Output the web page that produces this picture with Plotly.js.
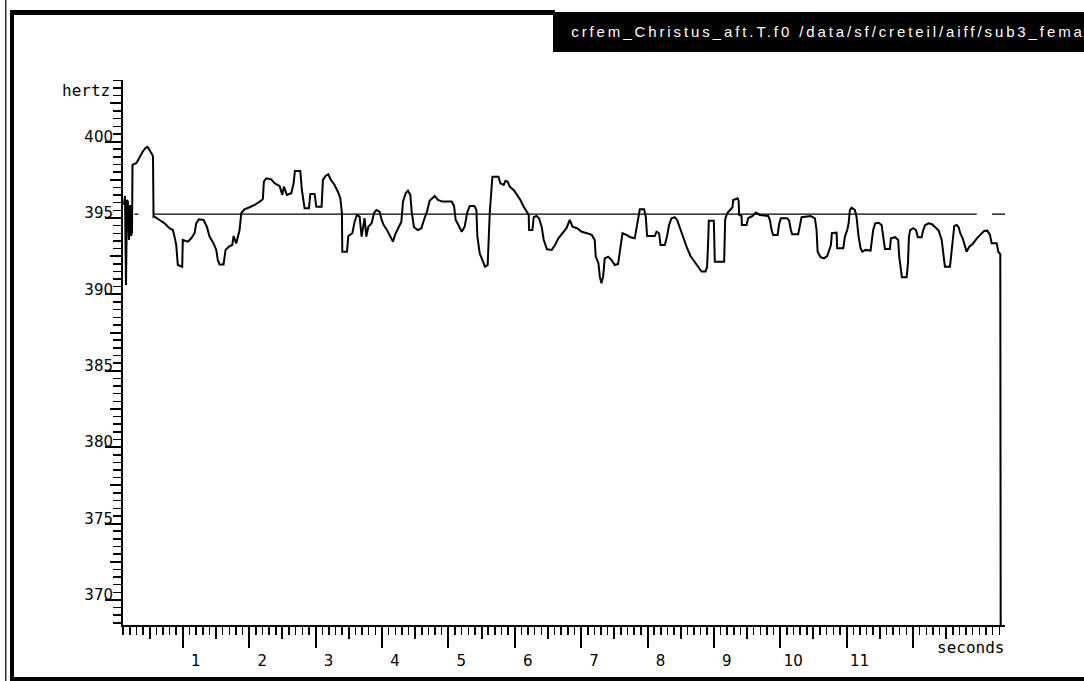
<!DOCTYPE html>
<html>
<head>
<meta charset="utf-8">
<script src="https://cdn.plot.ly/plotly-3.0.1.min.js"></script>
<style>
  html, body { margin: 0; padding: 0; background: #fff; }
  #plot { width: 1084px; height: 681px; }
  /* widely tracked window caption */
  g.annotation[data-index="0"] text { letter-spacing: 2.9px; }
</style>
</head>
<body>
<div id="plot"></div>
<script>
// F0 track of the sung excerpt: time (seconds) and fundamental frequency (hertz)
const timeS = [
  0.113,0.128,0.143,0.158,0.173,0.188,0.204,0.219,0.234,0.241,0.301,0.347,0.392,0.437,0.467,0.497,0.528,0.550,0.558,
  0.573,0.648,0.724,0.799,0.849,0.874,0.900,0.924,0.990,0.999,
  1.075,1.126,1.176,1.201,1.241,1.311,1.361,1.402,1.462,1.503,
  1.526,1.553,1.613,1.643,1.693,1.744,1.764,1.804,1.828,1.854,
  1.880,1.929,2.005,2.080,2.156,2.205,2.220,2.257,2.332,2.382,
  2.457,2.498,2.522,2.567,2.633,2.668,2.688,2.769,2.793,2.834,
  2.899,2.920,2.985,3.010,3.090,3.110,3.150,3.191,3.230,3.286,
  3.336,3.372,3.396,3.402,3.472,3.493,3.553,3.588,3.622,3.663,
  3.693,3.738,3.764,3.794,3.844,3.879,3.915,3.964,3.995,4.025,
  4.075,4.126,4.165,4.201,4.251,4.292,4.316,4.356,4.391,4.427,
  4.447,4.482,4.542,4.593,4.632,4.677,4.718,4.794,4.843,4.910,
  4.979,5.050,5.085,5.110,5.151,5.200,5.246,5.281,5.321,5.392,
  5.422,5.437,5.472,5.513,5.552,5.592,5.623,5.663,5.754,5.784,
  5.834,5.859,5.894,5.924,5.984,6.034,6.085,6.135,6.185,6.211,
  6.215,6.266,6.286,6.327,6.366,6.407,6.437,6.486,6.557,6.607,
  6.658,6.728,6.779,6.829,6.869,6.939,7.009,7.089,7.160,7.205,
  7.220,7.261,7.281,7.306,7.331,7.356,7.406,7.457,7.507,7.557,
  7.593,7.623,7.683,7.743,7.808,7.834,7.858,7.884,7.949,7.974,
  7.994,8.110,8.136,8.175,8.196,8.261,8.295,8.325,8.362,8.411,
  8.446,8.487,8.537,8.597,8.648,8.713,8.763,8.814,8.874,8.898,
  8.913,8.924,8.999,9.014,9.155,9.170,9.200,9.241,9.281,9.290,
  9.357,9.372,9.381,9.417,9.422,9.492,9.517,9.583,9.633,9.693,
  9.818,9.844,9.869,9.893,9.960,9.984,10.009,10.104,10.134,10.160,
  10.180,10.270,10.296,10.321,10.457,10.522,10.547,10.563,10.608,10.658,
  10.707,10.737,10.763,10.778,10.849,10.858,10.949,10.974,11.009,11.030,
  11.049,11.075,11.125,11.150,11.180,11.210,11.235,11.286,11.361,11.381,
  11.400,11.431,11.482,11.527,11.551,11.577,11.652,11.667,11.732,11.777,
  11.792,11.818,11.833,11.904,11.924,11.939,11.958,12.003,12.044,12.074,
  12.130,12.154,12.184,12.236,12.285,12.335,12.387,12.432,12.456,12.481,
  12.557,12.572,12.597,12.622,12.658,12.688,12.712,12.748,12.778,12.808,
  12.848,12.899,12.959,13.009,13.069,13.119,13.160,13.185,13.261,13.285,
  13.315,13.321
];
const f0Hz = [
  395.85,396.44,390.62,396.18,396.05,393.56,395.85,393.82,394.08,398.47,398.60,398.99,399.32,399.58,399.65,399.45,399.25,399.06,395.07,
  395.09,394.87,394.65,394.33,394.21,393.78,393.23,391.92,391.81,393.56,
  393.45,393.67,394.00,394.65,394.91,394.87,394.43,393.78,393.34,392.91,
  392.25,391.96,391.96,392.91,393.12,393.23,393.82,393.34,393.78,394.21,
  395.31,395.57,395.70,395.85,396.07,396.22,397.38,397.60,397.53,397.27,
  397.09,396.51,397.05,396.51,396.62,397.27,398.08,398.08,396.83,395.63,
  395.63,396.57,396.57,395.74,395.74,397.49,397.75,397.86,397.49,397.16,
  396.72,396.29,395.31,392.79,392.79,393.82,394.00,394.76,395.20,395.09,
  393.78,394.98,393.78,394.43,394.65,395.31,395.52,395.41,394.87,394.54,
  394.21,393.78,393.45,393.95,394.43,394.76,396.07,396.62,396.79,396.51,
  395.41,394.39,394.21,394.33,394.87,395.41,396.13,396.44,396.18,396.07,
  396.07,396.07,395.79,394.87,394.54,394.10,394.43,395.31,395.79,395.79,
  395.52,393.78,392.69,392.25,391.81,391.92,395.31,397.70,397.70,397.27,
  397.16,397.42,397.38,397.05,396.83,396.51,396.18,395.74,395.41,395.20,
  394.21,394.21,395.05,395.13,394.98,394.39,393.56,392.95,392.91,393.23,
  393.67,394.10,394.33,394.87,394.43,394.33,394.10,394.00,393.89,393.56,
  392.47,392.04,391.16,390.73,391.16,392.36,392.47,392.25,391.92,391.99,
  393.23,394.00,393.89,393.74,393.67,394.43,394.87,395.57,395.57,395.09,
  393.82,393.82,394.10,394.00,393.23,393.23,393.82,394.54,394.98,395.05,
  394.87,394.33,393.67,393.02,392.51,392.14,391.81,391.49,391.49,391.81,
  393.34,394.82,394.82,392.14,392.14,394.91,395.31,395.52,395.70,396.18,
  396.29,396.13,395.20,395.13,394.54,394.54,394.98,395.13,395.35,395.20,
  395.13,394.87,394.21,393.89,393.89,394.61,394.98,394.98,394.82,394.21,
  393.93,393.93,394.43,395.05,395.13,394.98,394.21,392.79,392.43,392.36,
  392.51,392.95,393.23,394.00,394.04,393.02,393.02,393.78,394.21,394.65,
  395.52,395.67,395.52,395.05,393.78,393.02,392.79,392.91,392.86,393.56,
  394.21,394.65,394.69,394.54,393.78,392.97,392.97,393.67,393.74,393.56,
  392.47,391.49,391.12,391.12,392.04,393.78,394.21,394.33,394.21,393.74,
  393.74,394.21,394.54,394.65,394.59,394.39,394.17,393.56,392.69,391.81,
  391.81,392.51,393.78,394.48,394.54,394.39,394.00,393.67,393.23,392.79,
  393.12,393.30,393.65,393.89,394.15,394.17,393.89,393.34,393.34,392.79,
  392.64,368.36
];

// mean-frequency reference line (broken where it is interrupted)
const refTimeS = [0.27, 0.33, null, 0.57, 12.96, null, 13.19, 13.45];
const refHz    = [395.25, 395.25, null, 395.25, 395.25, null, 395.25, 395.25];

// axis graduations
const secTicks   = [1,2,3,4,5,6,7,8,9,10,11,12];
const secLabels  = ['1','2','3','4','5','6','7','8','9','10','11',''];
const secHalf    = [0.5,1.5,2.5,3.5,4.5,5.5,6.5,7.5,8.5,9.5,10.5,11.5,12.5];
const hzTicks    = [370,375,380,385,390,395,400];
const hzLabels   = ['370','375','380','385','390','395','400'];
const hzHalf     = [372.5,377.5,382.5,387.5,392.5,397.5,402.5];
const secRange   = [0.098, 13.386];
const hzRange    = [368.36, 404.03];

const captionText = 'crfem_Christus_aft.T.f0 /data/sf/creteil/aiff/sub3_fema';
const yUnit = 'hertz';
const xUnit = 'seconds';

// page geometry (pixels)
const W = 1084, H = 681;
const M = {l: 123, r: 79, t: 80, b: 56};
const PW = W - M.l - M.r, PH = H - M.t - M.b;
const px = x => (x - M.l) / PW;          // page x -> paper
const py = y => (H - M.b - y) / PH;      // page y -> paper

function box(x0, y0, x1, y1, color) {
  return {type: 'rect', xref: 'paper', yref: 'paper', layer: 'above',
          x0: px(x0), x1: px(x1), y0: py(y1), y1: py(y0),
          fillcolor: color, line: {width: 0}};
}

const ink = '#000';
const tickFont = {family: 'DejaVu Sans', size: 15, color: ink};
const unitFont = {family: 'DejaVu Sans Mono', size: 16, color: ink};

const traces = [
  {x: refTimeS, y: refHz, type: 'scatter', mode: 'lines',
   line: {color: ink, width: 1.3}, hoverinfo: 'skip'},
  {x: timeS, y: f0Hz, type: 'scatter', mode: 'lines',
   line: {color: ink, width: 2}, hoverinfo: 'skip'},
  {x: [], y: [], xaxis: 'x2', yaxis: 'y2', type: 'scatter', mode: 'lines', hoverinfo: 'skip'}
];

const layout = {
  width: W, height: H,
  margin: {l: M.l, r: M.r, t: M.t, b: M.b, pad: 0},
  paper_bgcolor: '#fff', plot_bgcolor: '#fff',
  showlegend: false,
  xaxis: {
    range: secRange, tickmode: 'array', tickvals: secTicks, ticktext: secLabels,
    ticks: 'outside', ticklen: 21, tickwidth: 2, tickcolor: ink,
    showline: true, linewidth: 2, linecolor: ink,
    showgrid: false, zeroline: false, fixedrange: true,
    tickfont: tickFont, ticklabelshift: 13, ticklabelstandoff: 0,
    minor: {tickmode: 'linear', tick0: 0, dtick: 0.1, ticks: 'outside',
            ticklen: 8, tickwidth: 1.5, tickcolor: ink, showgrid: false}
  },
  xaxis2: {
    overlaying: 'x', anchor: 'y2', side: 'bottom', range: secRange,
    tickmode: 'array', tickvals: secHalf, ticks: 'outside', ticklen: 13,
    tickwidth: 2, tickcolor: ink, showticklabels: false,
    showline: false, showgrid: false, zeroline: false, fixedrange: true
  },
  yaxis: {
    range: hzRange, tickmode: 'array', tickvals: hzTicks, ticktext: hzLabels,
    ticks: 'outside', ticklen: 16, tickwidth: 2, tickcolor: ink,
    showline: true, linewidth: 2, linecolor: ink,
    showgrid: false, zeroline: false, fixedrange: true,
    tickfont: tickFont, ticklabelshift: -5, ticklabelstandoff: -11,
    minor: {tickmode: 'linear', tick0: 0, dtick: 0.5, ticks: 'outside',
            ticklen: 8, tickwidth: 1.5, tickcolor: ink, showgrid: false}
  },
  yaxis2: {
    overlaying: 'y', anchor: 'x2', side: 'left', range: hzRange,
    tickmode: 'array', tickvals: hzHalf, ticks: 'outside', ticklen: 12,
    tickwidth: 2, tickcolor: ink, showticklabels: false,
    showline: false, showgrid: false, zeroline: false, fixedrange: true
  },
  shapes: [
    box(5, 0, 6.5, H, '#333'),          // thin outer window edge
    box(10, 10, 14, H, ink),            // left frame
    box(10, 10, 555, 15, ink),          // top frame
    box(10, 677, W, H, ink),            // bottom frame
    box(553, 12, W, 52, ink)            // caption bar
  ],
  annotations: [
    // caption is centred on its tracked width so it starts just inside the bar
    {text: captionText, xref: 'paper', yref: 'paper', x: px(828), y: py(31.5),
     xanchor: 'center', yanchor: 'middle', showarrow: false,
     font: {family: 'Liberation Sans', size: 15, color: '#fff'}},
    {text: yUnit, xref: 'paper', yref: 'paper', x: px(112), y: py(90),
     xanchor: 'right', yanchor: 'middle', showarrow: false, font: unitFont},
    {text: xUnit, xref: 'paper', yref: 'paper', x: px(1006), y: py(647),
     xanchor: 'right', yanchor: 'middle', showarrow: false, font: unitFont}
  ]
};

Plotly.newPlot('plot', traces, layout, {staticPlot: true, displayModeBar: false});
</script>
</body>
</html>
